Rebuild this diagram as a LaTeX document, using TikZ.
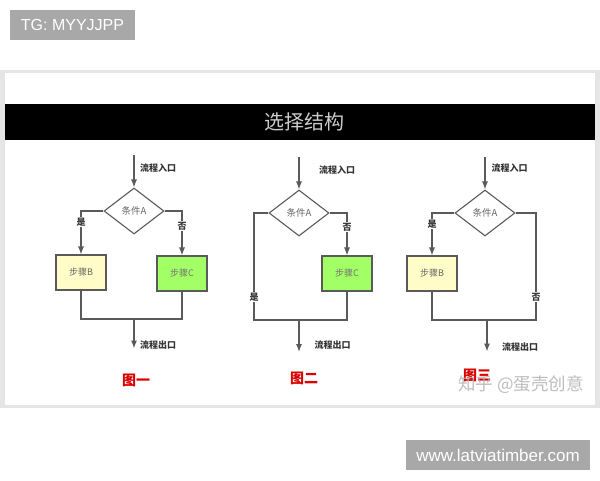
\documentclass[tikz,border=0pt]{standalone}
\usepackage{fontspec}
\setmainfont{Liberation Sans}
\newfontfamily\cjk{Noto Sans CJK SC}
\usetikzlibrary{shapes.geometric,arrows.meta}
\definecolor{ln}{HTML}{5A5A5A}
\tikzset{
  x=1pt,y=-1pt,
  tagbox/.style={fill=black!34,text=white,inner sep=0pt,font=\fontsize{16}{18}\selectfont},
  cond/.style={diamond,draw=ln,line width=1.1pt,fill=white,minimum width=60pt,minimum height=46pt,aspect=1.3,inner sep=0pt,text=black!60,font=\cjk\fontsize{9.5}{10}\selectfont},
  stepbox/.style={rectangle,draw=ln,line width=1.1pt,minimum width=50pt,minimum height=35pt,inner sep=0pt,text=black!60,font=\cjk\fontsize{9}{10}\selectfont},
  yellowbox/.style={stepbox,fill=yellow!22!white},
  greenbox/.style={stepbox,fill=green!60!yellow!60!white,text=black!55},
  conn/.style={draw=ln,line width=1.1pt},
  arr/.style={conn,-{Latex[length=8pt,width=6pt]}},
  lab/.style={font=\cjk\bfseries\fontsize{9}{10}\selectfont,text=black!80,inner sep=0.5pt},
  blab/.style={lab,fill=white},
  figcap/.style={font=\cjk\bfseries\fontsize{14}{16}\selectfont,text=red!85!black,inner sep=0pt},
}
\begin{document}
\begin{tikzpicture}
\useasboundingbox (0,0) rectangle (600,480);
\fill[white] (0,0) rectangle (600,480);
% frame
\fill[black!10] (0,70) rectangle (600,408);
\fill[white] (5,73) rectangle (595,405);
\node[fill=black,minimum width=590pt,minimum height=35.5pt,inner sep=0pt,text=black!20,font=\cjk\fontsize{20}{22}\selectfont] (title) at (300,122) {\hspace{8pt}选择结构};
% tags
\node[tagbox,minimum width=125pt,minimum height=30pt] (tg) at (72.5,25) {TG: MYYJJPP};
\node[tagbox,minimum width=184pt,minimum height=30pt,font=\fontsize{17}{19}\selectfont] (url) at (498,455) {www.latviatimber.com};

% diagram 1
\coordinate (s1) at (134,155);
\node[cond] (d1) at (134,211) {条件A};
\node[yellowbox] (b1) at (81,272.5) {步骤B};
\node[greenbox] (c1) at (182,273.5) {步骤C};
\coordinate (m1) at (134,319);
\coordinate (e1) at (134,348.5);
\draw[arr] (s1) -- (d1.north);
\draw[arr] (d1.west) -| (b1.north);
\draw[arr] (d1.east) -| (c1.north);
\draw[conn] (b1.south) |- (m1);
\draw[conn] (c1.south) |- (m1);
\draw[arr] (m1) -- (e1);
\node[lab] (in1) at (158,168) {流程入口};
\node[blab] (y1) at (81,222) {是};
\node[blab] (n1) at (182,226) {否};
\node[lab] (out1) at (158,345) {流程出口};
\node[figcap] (f1) at (136,380) {图一};

% diagram 2
\coordinate (s2) at (299,157);
\node[cond] (d2) at (299,213) {条件A};
\node[greenbox] (c2) at (347,273.5) {步骤C};
\coordinate (l2) at (254,320);
\coordinate (m2) at (299,320);
\coordinate (e2) at (299,352);
\draw[arr] (s2) -- (d2.north);
\draw[arr] (d2.east) -| (c2.north);
\draw[conn] (d2.west) -| (l2) -- (m2);
\draw[conn] (c2.south) |- (m2);
\draw[arr] (m2) -- (e2);
\node[lab] (in2) at (337,170) {流程入口};
\node[blab] (n2) at (347,227) {否};
\node[blab] (y2) at (254,297) {是};
\node[lab] (out2) at (332.5,345) {流程出口};
\node[figcap] (f2) at (304,378) {图二};

% diagram 3
\coordinate (s3) at (485,157);
\node[cond] (d3) at (485,213) {条件A};
\node[yellowbox] (b3) at (432,273.5) {步骤B};
\coordinate (r3) at (536,320);
\coordinate (m3) at (487,320);
\coordinate (e3) at (487,351.5);
\draw[arr] (s3) -- (d3.north);
\draw[arr] (d3.west) -| (b3.north);
\draw[conn] (d3.east) -| (r3) -- (m3);
\draw[conn] (b3.south) |- (m3);
\draw[arr] (m3) -- (e3);
\node[lab] (in3) at (509.5,168) {流程入口};
\node[blab] (y3) at (432,224) {是};
\node[blab] (n3) at (536,297) {否};
\node[lab] (out3) at (520,347) {流程出口};
\node[figcap] (f3) at (477,375.5) {图三};
% watermark
\node[font=\cjk\fontsize{17.5}{19}\selectfont,text=black!30,opacity=0.85,inner sep=0pt] (wm) at (521,385) {知乎 @蛋壳创意};
\end{tikzpicture}
\end{document}
